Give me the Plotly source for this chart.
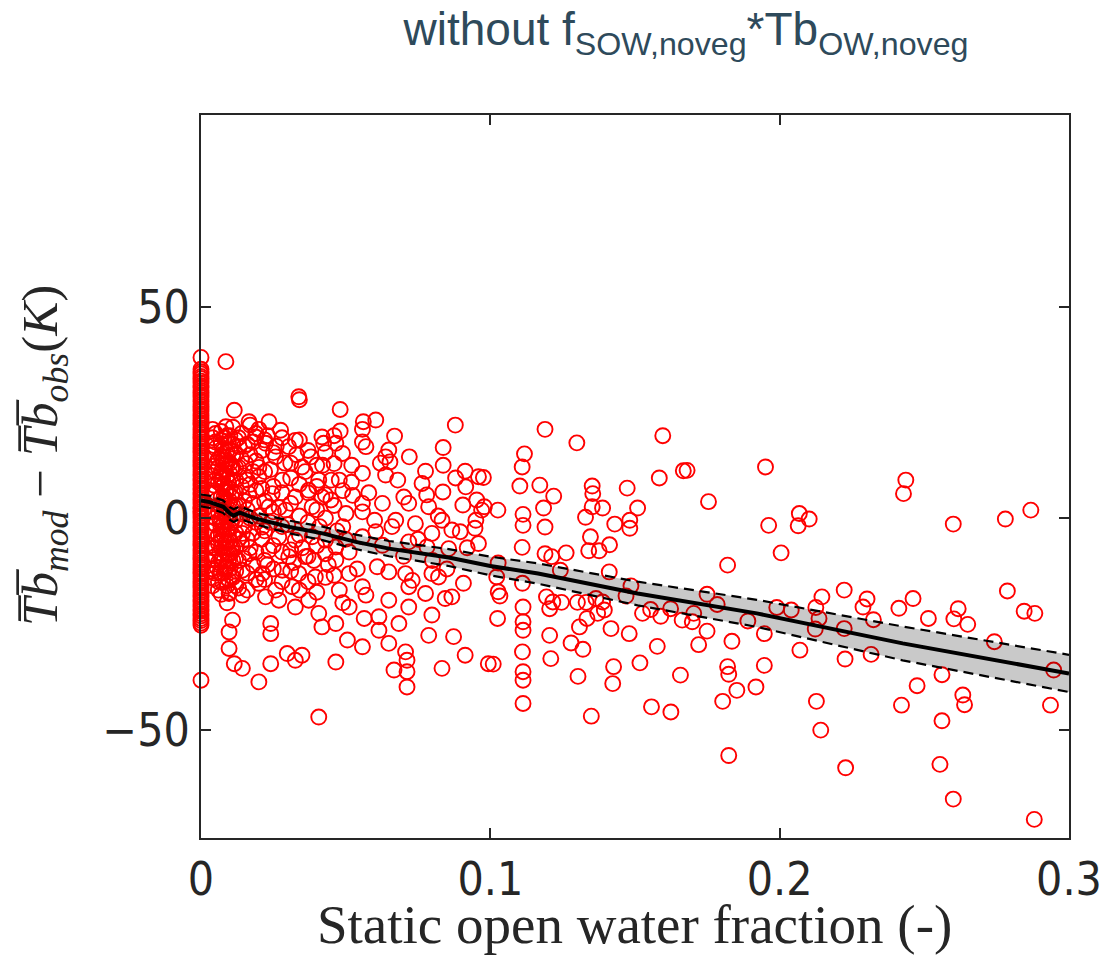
import plotly.graph_objects as go

# ---------------- data ----------------
# points lying exactly on x = 0 (static open water fraction = 0): a nearly solid column
zero_y = [38.0, 35.2, 34.6, 34.1, 33.5, 33.0, 32.4, 31.9, 31.3, 30.8, 30.2, 29.7,
          29.1, 28.6, 28.0, 27.5, 26.9, 26.4, 25.8, 25.3, 24.7, 24.2, 23.6, 23.1,
          22.5, 22.0, 21.4, 20.9, 20.3, 19.8, 19.2, 18.7, 18.1, 17.6, 17.0, 16.5,
          15.9, 15.4, 14.8, 14.3, 13.7, 13.2, 12.6, 12.1, 11.5, 11.0, 10.4, 9.9,
          9.3, 8.8, 8.2, 7.7, 7.1, 6.6, 6.0, 5.5, 4.9, 4.4, 3.8, 3.3, 2.7, 2.2,
          1.6, 1.1, 0.5, 0.0, -0.6, -1.1, -1.7, -2.2, -2.8, -3.3, -3.9, -4.4,
          -5.0, -5.5, -6.1, -6.6, -7.2, -7.7, -8.3, -8.8, -9.4, -9.9, -10.5, -11.0,
          -11.6, -12.1, -12.7, -13.2, -13.8, -14.3, -14.9, -15.4, -16.0, -16.5,
          -17.1, -17.6, -18.2, -18.7, -19.3, -19.8, -20.4, -20.9, -21.5, -22.0,
          -22.6, -23.1, -23.7, -24.2, -24.8, -25.3, -38.3]

# dense cloud close to x = 0 (0 < x < 0.05)
near_pts = [
    (0.0086, 37.0), (0.0338, 28.7), (0.0340, 28.0), (0.0115, 25.5), (0.0235, 22.8),
    (0.0166, 22.8), (0.0086, 21.6), (0.0275, 20.8), (0.0326, 18.4), (0.0189, 19.2),
    (0.0418, 19.2), (0.0069, 18.4), (0.0132, 16.9), (0.0223, 17.7), (0.0303, 16.9),
    (0.0424, 17.7), (0.0075, 13.7), (0.0155, 12.9), (0.0258, 14.5), (0.0349, 12.1),
    (0.0407, 9.0), (0.0281, 9.0), (0.0200, 9.8), (0.0109, 9.0), (0.0075, 7.4),
    (0.0166, 5.8), (0.0246, 5.8), (0.0326, 5.0), (0.0372, 6.6), (0.0418, 5.0),
    (0.0235, 2.7), (0.0292, 1.9), (0.0384, 2.7), (0.0075, 1.1), (0.0069, -2.1),
    (0.0069, -5.2), (0.0143, -3.6), (0.0212, -2.1), (0.0269, -4.4), (0.0326, -5.2),
    (0.0384, -4.4), (0.0430, -5.2), (0.0097, -8.4), (0.0166, -8.4), (0.0235, -7.6),
    (0.0303, -9.1), (0.0361, -9.1), (0.0430, -8.4), (0.0086, -11.5), (0.0143, -12.3),
    (0.0212, -13.1), (0.0281, -12.3), (0.0338, -13.1), (0.0395, -13.9), (0.0097, -14.7),
    (0.0200, -15.4), (0.0258, -17.0), (0.0315, -16.2), (0.0097, -17.8), (0.0143, -18.2),
    (0.0223, -18.6), (0.0269, -19.4), (0.0326, -21.0), (0.0372, -19.4), (0.0407, -22.5),
    (0.0418, -25.7), (0.0109, -24.1), (0.0097, -26.9), (0.0241, -24.9), (0.0241, -27.3),
    (0.0097, -30.8), (0.0298, -32.0), (0.0326, -33.6), (0.0349, -32.4), (0.0115, -34.4),
    (0.0143, -35.5), (0.0241, -34.4), (0.0200, -38.7), (0.0407, -47.0),
    (0.004, 21.0), (0.005, 18.0), (0.004, 15.0), (0.006, 12.0), (0.005, 9.0),
    (0.004, 6.0), (0.006, 3.0), (0.005, 0.0), (0.004, -3.0), (0.006, -6.0),
    (0.005, -9.0), (0.004, -12.0), (0.006, -15.0), (0.005, 20.0), (0.007, 17.5),
    (0.008, 14.5), (0.007, 11.0), (0.008, 8.0), (0.007, 5.0), (0.008, 2.0),
    (0.007, -1.0), (0.008, -4.0), (0.007, -7.0), (0.008, -10.0), (0.007, -13.0),
    (0.009, -16.0), (0.009, 19.5), (0.010, 16.0), (0.009, 13.0), (0.010, 10.5),
    (0.009, 7.0), (0.010, 4.0), (0.009, 1.0), (0.010, -2.5), (0.009, -5.5),
    (0.010, -8.5), (0.009, -11.5), (0.011, -14.0), (0.011, 21.5), (0.012, 18.5),
    (0.011, 15.0), (0.012, 12.0), (0.011, 9.0), (0.012, 6.0), (0.011, 3.0),
    (0.012, -0.5), (0.011, -4.0), (0.012, -7.0), (0.011, -10.0), (0.012, -12.5),
    (0.013, -16.5), (0.014, 20.0), (0.015, 17.0), (0.014, 14.0), (0.015, 10.0),
    (0.014, 7.5), (0.015, 4.0), (0.014, 1.0), (0.015, -2.0), (0.014, -6.0),
    (0.015, -9.5), (0.016, -13.0), (0.017, 22.0), (0.018, 18.0), (0.017, 15.0),
    (0.018, 11.0), (0.017, 8.0), (0.018, 3.5), (0.017, 0.0), (0.018, -3.5),
    (0.017, -7.0), (0.018, -11.0), (0.019, -14.5), (0.020, 21.0), (0.021, 16.0),
    (0.020, 12.0), (0.021, 7.0), (0.022, 4.0), (0.020, 0.5), (0.021, -5.0),
    (0.022, -10.0), (0.023, 19.5), (0.024, 11.5), (0.025, 7.5), (0.024, -1.0),
    (0.025, -6.5), (0.023, -11.0), (0.026, 17.0), (0.027, 2.5), (0.028, -8.0),
    (0.029, 13.0), (0.030, -1.5), (0.031, 9.5), (0.032, -10.5), (0.033, 15.0),
    (0.034, 0.5), (0.035, -7.0), (0.036, 11.0), (0.037, -1.0), (0.038, 14.5),
    (0.039, -10.0), (0.040, 7.5), (0.041, -2.0), (0.042, 12.5), (0.043, 0.0),
    (0.044, -11.0), (0.045, 9.0), (0.046, 3.0), (0.047, -3.0),
    # very dense blob at 0.004 - 0.012
    (0.005, 16.5), (0.006, 14.0), (0.005, 11.0), (0.006, 8.5), (0.005, 6.0),
    (0.006, 1.5), (0.005, -1.5), (0.006, -4.0), (0.005, -7.0), (0.006, -10.5),
    (0.005, -13.0), (0.006, -17.0), (0.004, 19.0), (0.004, 10.0), (0.004, 1.5),
    (0.004, -7.0), (0.004, -16.0), (0.007, 20.5), (0.007, 14.5), (0.007, 8.0),
    (0.007, 2.5), (0.007, -4.0), (0.007, -10.0), (0.007, -18.0), (0.008, 19.0),
    (0.008, 11.5), (0.008, 5.0), (0.008, -1.0), (0.008, -7.0), (0.008, -13.0),
    (0.009, 16.0), (0.009, 10.0), (0.009, 4.0), (0.009, -2.5), (0.009, -8.5),
    (0.009, -20.0), (0.010, 19.5), (0.010, 13.0), (0.010, 7.0), (0.010, 1.0),
    (0.010, -5.5), (0.010, -12.0), (0.010, -17.5), (0.011, 17.5), (0.011, 12.0),
    (0.011, 6.0), (0.011, 0.0), (0.011, -7.0), (0.012, 15.0), (0.012, 9.0),
    (0.012, 3.0), (0.012, -3.5), (0.012, -9.5), (0.012, -16.0),
    (0.0045, 17.2), (0.0055, 13.2), (0.0045, 12.3), (0.0065, 9.8), (0.0045, 7.8),
    (0.0055, 4.3), (0.0065, -0.3), (0.0045, -1.2), (0.0055, -4.8), (0.0065, -8.2),
    (0.0045, -9.8), (0.0055, -11.6), (0.0065, -12.9), (0.0045, -14.3), (0.0075, 15.9),
    (0.0085, 12.6), (0.0075, 9.4), (0.0085, 6.3), (0.0075, 3.6), (0.0085, 0.2),
    (0.0075, -2.7), (0.0085, -5.8), (0.0075, -8.6), (0.0085, -11.9), (0.0075, -15.2),
    (0.0095, 17.8), (0.0105, 11.7), (0.0095, 8.4), (0.0105, 5.2), (0.0095, 2.3),
    (0.0105, -1.1), (0.0095, -4.1), (0.0105, -7.2), (0.0095, -10.1), (0.0105, -13.6),
    # further fill 0.013 - 0.05
    (0.013, 19.0), (0.013, 12.0), (0.013, 3.0), (0.013, -5.0), (0.013, -10.0),
    (0.016, 17.5), (0.016, 9.0), (0.016, 2.0), (0.016, -5.0), (0.016, -17.0),
    (0.019, 20.0), (0.019, 13.5), (0.019, 6.5), (0.019, -1.0), (0.019, -8.0),
    (0.022, 18.5), (0.022, 11.0), (0.022, -3.0), (0.022, -14.5), (0.025, 15.5),
    (0.025, 1.5), (0.025, -12.0), (0.028, 19.0), (0.028, 6.0), (0.028, -2.0),
    (0.028, -15.0), (0.031, 13.0), (0.031, 3.5), (0.031, -7.5), (0.031, -12.5),
    (0.034, 18.5), (0.034, 8.0), (0.034, -4.0), (0.034, -17.0), (0.037, 16.0),
    (0.037, 6.0), (0.037, -9.0), (0.037, -15.0), (0.040, 12.5), (0.040, 2.0),
    (0.040, -6.5), (0.040, -17.5), (0.043, 15.5), (0.043, 5.5), (0.043, -14.0),
    (0.046, -13.5), (0.046, 19.5), (0.049, 6.5), (0.049, -2.0), (0.049, -20.0),
]

# mid range (0.045 < x < 0.1)
mid_pts = [
    (0.0481, 25.7), (0.0879, 22.0), (0.0604, 23.2), (0.0561, 22.8), (0.0558, 21.0),
    (0.0481, 20.6), (0.0669, 19.4), (0.0558, 18.0), (0.0570, 16.9), (0.0466, 17.7),
    (0.0489, 15.3), (0.0649, 16.1), (0.0638, 14.5), (0.0653, 13.3), (0.0837, 16.7),
    (0.0837, 12.5), (0.0776, 11.1), (0.0913, 11.1), (0.0959, 9.8), (0.0460, 12.9),
    (0.0521, 12.5), (0.0558, 10.6), (0.0478, 9.0), (0.0638, 10.2), (0.0764, 8.2),
    (0.0915, 7.4), (0.0836, 6.2), (0.0449, 4.3), (0.0524, 5.4), (0.0558, 3.5),
    (0.0558, 1.5), (0.0627, 3.5), (0.0701, 5.0), (0.0718, 3.5), (0.0787, 2.7),
    (0.0905, 3.1), (0.0953, 4.3), (0.0970, 1.9), (0.0501, 1.1), (0.0673, -0.5),
    (0.0741, -1.3), (0.0833, -0.5), (0.0867, -2.8), (0.0896, -3.2), (0.0798, -3.6),
    (0.0947, -2.4), (0.0959, -6.0), (0.0604, -3.2), (0.0558, -4.4), (0.0627, -6.4),
    (0.0718, -5.6), (0.0781, -6.8), (0.0856, -7.2), (0.0466, -6.8), (0.0512, -8.0),
    (0.0609, -11.5), (0.0649, -12.7), (0.0707, -13.1), (0.0730, -14.7), (0.0798, -13.1),
    (0.0821, -13.9), (0.0907, -15.4), (0.0844, -19.0), (0.0867, -18.6), (0.0776, -17.8),
    (0.0718, -16.2), (0.0558, -16.2), (0.0466, -9.9), (0.0512, -13.1), (0.0478, -17.0),
    (0.0570, -18.2), (0.0649, -19.4), (0.0512, -21.0), (0.0718, -21.0), (0.0798, -22.9),
    (0.0615, -23.3), (0.0564, -23.7), (0.0466, -24.9), (0.0684, -24.9), (0.0615, -26.5),
    (0.0787, -27.7), (0.0873, -28.0), (0.0506, -28.8), (0.0558, -30.4), (0.0649, -29.6),
    (0.0913, -32.4), (0.0707, -31.6), (0.0466, -34.0), (0.0712, -33.6), (0.0667, -35.9),
    (0.0712, -36.3), (0.0833, -35.5), (0.0993, -34.4), (0.0712, -39.9),
    (0.050, -5.0), (0.052, 8.5), (0.054, -12.0), (0.058, 6.0), (0.060, -0.5),
    (0.062, 13.0), (0.066, -2.0), (0.068, 9.0), (0.070, -9.0), (0.072, 14.5),
    (0.075, -5.0), (0.078, 5.5), (0.080, -10.0), (0.082, 0.5), (0.085, -12.0),
    (0.088, 9.5), (0.092, -7.0), (0.095, -0.5),
]

# sparse range (x > 0.1)
far_pts = [
    (0.1189, 21.0), (0.1299, 17.8), (0.1596, 19.5), (0.1667, 11.2), (0.1584, 9.5),
    (0.1118, 15.2), (0.1110, 12.1), (0.1102, 7.6), (0.1171, 7.8), (0.1219, 5.2),
    (0.1184, 2.4), (0.1352, 7.6), (0.1354, 5.8), (0.1352, 2.7), (0.1388, 2.4),
    (0.1329, 0.2), (0.1473, 7.1), (0.1509, 2.4), (0.1482, -0.5), (0.1482, -2.4),
    (0.1430, -1.4), (0.1113, 0.9), (0.1113, -1.7), (0.1189, -2.1), (0.1110, -6.9),
    (0.1346, -4.4), (0.1340, -7.7), (0.1376, -7.7), (0.1412, -6.3), (0.1189, -8.4),
    (0.1212, -9.1), (0.1262, -8.2), (0.1242, -12.3), (0.1411, -12.7), (0.1026, 1.9),
    (0.0979, 2.7), (0.0976, 9.6), (0.1027, -10.6), (0.1022, -13.9), (0.1111, -15.4),
    (0.1027, -17.4), (0.1033, -18.4), (0.1486, -16.0), (0.1469, -18.4), (0.1113, -21.0),
    (0.1194, -18.6), (0.1205, -21.4), (0.1216, -19.8), (0.1246, -19.9), (0.1301, -19.9),
    (0.1331, -19.9), (0.1365, -19.0), (0.1388, -19.8), (0.1394, -21.7), (0.1371, -22.5),
    (0.1526, -22.5), (0.1554, -21.6), (0.1589, -23.2), (0.1623, -21.4), (0.1663, -24.1),
    (0.1025, -23.7), (0.1113, -24.5), (0.1113, -26.5), (0.1334, -23.7), (0.1308, -25.7),
    (0.1417, -26.1), (0.1480, -27.3), (0.1205, -27.7), (0.1279, -29.5), (0.1320, -31.0),
    (0.1577, -30.3), (0.1111, -31.6), (0.1209, -33.2), (0.1010, -34.5), (0.1113, -36.3),
    (0.1113, -38.3), (0.1303, -37.4), (0.1426, -35.1), (0.1423, -39.1), (0.1517, -34.2),
    (0.1657, -37.1), (0.1113, -43.8), (0.1557, -44.6), (0.1624, -45.8), (0.1349, -46.8),
    (0.1951, 12.1), (0.1680, 11.3), (0.1754, 3.9), (0.2068, 1.1), (0.2102, -0.2),
    (0.2064, -1.8), (0.1962, -1.7), (0.2005, -8.2), (0.1820, -11.1), (0.2223, -17.0),
    (0.2146, -18.6), (0.2302, -19.1), (0.2288, -21.0), (0.2324, -24.0), (0.2125, -21.1),
    (0.2136, -23.7), (0.2123, -26.2), (0.2223, -26.1), (0.1990, -21.1), (0.2040, -21.7),
    (0.1749, -18.0), (0.1784, -20.4), (0.1703, -22.5), (0.1698, -24.5), (0.1749, -26.7),
    (0.1720, -29.9), (0.1890, -24.3), (0.1947, -27.3), (0.1835, -29.1), (0.2070, -31.2),
    (0.2226, -33.3), (0.2316, -32.2), (0.1947, -34.8), (0.1820, -35.1), (0.1824, -36.9),
    (0.1852, -40.7), (0.1918, -39.9), (0.1803, -43.3), (0.2127, -43.3), (0.2142, -50.1),
    (0.1824, -56.1), (0.2228, -59.0),
    (0.2436, 9.0), (0.2428, 5.8), (0.2600, -1.4), (0.2780, -0.2), (0.2868, 1.9),
    (0.2787, -17.2), (0.2845, -22.0), (0.2882, -22.5), (0.2742, -29.2), (0.2947, -35.9),
    (0.2936, -44.2), (0.2880, -71.2), (0.2600, -66.4), (0.2554, -58.2), (0.2561, -47.9),
    (0.2633, -41.8), (0.2639, -44.1), (0.2561, -37.0), (0.2475, -39.6), (0.2421, -44.2),
    (0.2650, -25.1), (0.2617, -21.4), (0.2602, -23.8), (0.2514, -23.7), (0.2461, -19.0),
    (0.2412, -21.3),
]

# fitted curve with its confidence band
fit_x = [0, 0.003, 0.0077, 0.010, 0.0113, 0.0134, 0.019, 0.0306, 0.042, 0.0535,
         0.065, 0.0764, 0.0856, 0.100, 0.1165, 0.1509, 0.1921, 0.2425, 0.300]
fit_y = [4.2, 3.8, 2.7, 1.1, 0.6, 1.3, -0.1, -2.1, -3.6, -5.6,
         -7.2, -8.4, -9.3, -11.3, -13.1, -17.8, -22.5, -29.6, -36.7]
fit_upper = [5.6, 5.3, 4.2, 2.6, 2.1, 2.8, 1.3, -0.6, -2.0, -3.9,
             -5.4, -6.5, -7.3, -9.1, -10.7, -15.0, -19.3, -25.6, -32.3]
fit_lower = [2.8, 2.4, 1.2, -0.4, -0.9, -0.2, -1.5, -3.6, -5.2, -7.3,
             -9.0, -10.3, -11.3, -13.5, -15.5, -20.6, -25.7, -33.6, -41.1]

x_ticks = [0, 0.1, 0.2, 0.3]
x_tick_labels = ["0", "0.1", "0.2", "0.3"]
y_ticks = [-50, 0, 50]

# ---------------- figure ----------------
all_pts = [(0.0, v) for v in zero_y] + near_pts + mid_pts + far_pts
px = [p[0] for p in all_pts]
py = [p[1] for p in all_pts]

fig = go.Figure()
fig.add_trace(go.Scatter(
    x=px, y=py, mode="markers", cliponaxis=False,
    marker=dict(symbol="circle-open", size=15, color="#ff0000",
                line=dict(width=1.9, color="#ff0000")),
    hoverinfo="x+y"))

# confidence band (semi-transparent, drawn over the points)
fig.add_trace(go.Scatter(x=fit_x, y=fit_lower, mode="lines",
                         line=dict(width=0, color="rgba(0,0,0,0)"), hoverinfo="skip"))
fig.add_trace(go.Scatter(x=fit_x, y=fit_upper, mode="lines", fill="tonexty",
                         fillcolor="rgba(0,0,0,0.21)",
                         line=dict(width=0, color="rgba(0,0,0,0)"), hoverinfo="skip"))
fig.add_trace(go.Scatter(x=fit_x, y=fit_upper, mode="lines",
                         line=dict(color="black", width=2.2, dash="10px,6px")))
fig.add_trace(go.Scatter(x=fit_x, y=fit_lower, mode="lines",
                         line=dict(color="black", width=2.2, dash="10px,6px")))
fig.add_trace(go.Scatter(x=fit_x, y=fit_y, mode="lines",
                         line=dict(color="black", width=4)))

axis_col = "#262626"
tick_font = dict(family="DejaVu Sans Condensed, DejaVu Sans", size=46, color=axis_col)
serif = "Liberation Serif, DejaVu Serif, serif"

# plot area in pixels: left 201, right 1074, top 115, bottom 838
L, R, T, B = 201, 1074, 115, 838

fig.update_layout(
    width=1114, height=974,
    margin=dict(l=L, r=1114 - R, t=T, b=974 - B),
    plot_bgcolor="white", paper_bgcolor="white",
    showlegend=False,
    title=dict(
        text="without f<sub>SOW,noveg</sub>*Tb<sub>OW,noveg</sub>",
        x=686 / 1114, xanchor="center", xref="container",
        y=1 - 13 / 974, yanchor="top",
        font=dict(family="Liberation Sans, Arial", size=46, color="#2e4a5b")),
    xaxis=dict(
        range=[0, 0.3], tickvals=x_ticks, ticktext=x_tick_labels,
        ticks="inside", ticklen=10, tickwidth=1.6, tickcolor=axis_col,
        showline=True, linewidth=2, linecolor=axis_col, mirror="ticks",
        showgrid=False, zeroline=False, tickfont=tick_font),
    yaxis=dict(
        range=[-75.6, 95.3], tickvals=y_ticks,
        ticks="inside", ticklen=10, tickwidth=1.6, tickcolor=axis_col,
        showline=True, linewidth=2, linecolor=axis_col, mirror="ticks",
        showgrid=False, zeroline=False, tickfont=tick_font),
    annotations=[
        dict(text="<i>T\u0305b\u0305</i><sub><i>mod</i></sub> \u2212 "
                  "<i>T\u0305b\u0305</i><sub><i>obs</i></sub>(<i>K</i>)",
             textangle=-90, showarrow=False,
             xref="paper", yref="paper",
             x=(43 - L) / (R - L), y=(B - 455) / (B - T),
             xanchor="center", yanchor="middle",
             font=dict(family=serif, size=51, color=axis_col)),
        dict(text="Static open water fraction (-)", showarrow=False,
             xref="paper", yref="paper",
             x=(637 - L) / (R - L), y=(B - 924) / (B - T),
             xanchor="center", yanchor="middle",
             font=dict(family=serif, size=55, color=axis_col)),
    ],
)

fig.write_html("out.html")
